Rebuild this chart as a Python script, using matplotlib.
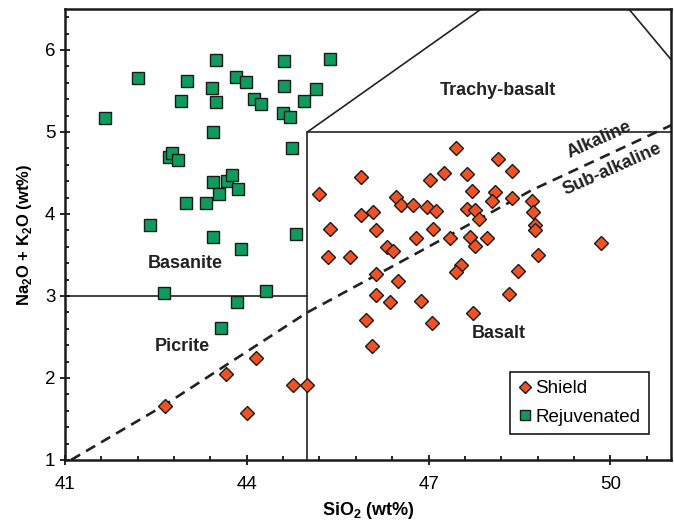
import matplotlib
matplotlib.use("Agg")
import matplotlib.pyplot as plt
import numpy as np

plt.rcParams["font.family"] = ["Liberation Sans", "DejaVu Sans"]
plt.rcParams["mathtext.fontset"] = "custom"
plt.rcParams["mathtext.rm"] = "Liberation Sans"
plt.rcParams["mathtext.bf"] = "Liberation Sans:bold"

# shield samples (SiO2, Na2O+K2O)
shield_sio2 = [42.65, 43.65, 44.16, 44.00, 44.76, 44.99,
               47.46, 45.89, 45.19, 47.03, 47.26, 47.63, 47.71,
               46.47, 46.55, 46.74, 46.97, 47.13, 47.63, 47.76, 47.84,
               45.88, 46.09, 45.38, 46.13, 47.07, 46.79, 47.35, 47.68, 47.77, 47.96,
               46.31, 46.41, 45.34, 45.70, 47.54,
               48.14, 48.38, 48.09, 48.04, 48.38, 48.70, 48.73, 48.75, 48.76,
               49.85, 48.81, 48.48,
               47.46, 46.14, 46.49, 46.13, 46.36, 46.87, 48.33, 45.96, 47.05, 47.73, 46.06]
shield_alk = [1.66, 2.05, 2.24, 1.57, 1.91, 1.91,
              4.80, 4.45, 4.24, 4.41, 4.50, 4.49, 4.28,
              4.21, 4.11, 4.11, 4.09, 4.04, 4.06, 4.05, 3.94,
              3.99, 4.02, 3.82, 3.80, 3.82, 3.71, 3.71, 3.72, 3.61, 3.71,
              3.60, 3.55, 3.48, 3.48, 3.38,
              4.67, 4.53, 4.27, 4.16, 4.19, 4.16, 4.02, 3.87, 3.81,
              3.65, 3.50, 3.31,
              3.29, 3.27, 3.18, 3.01, 2.93, 2.94, 3.02, 2.71, 2.67, 2.79, 2.39]

# rejuvenated samples
rejuv_sio2 = [41.66, 42.20, 43.01, 42.91, 43.49, 43.42, 43.49, 43.83, 43.98, 44.12,
              44.23, 44.61, 44.61, 44.59, 44.71, 44.94, 45.15, 45.37, 43.44, 44.74,
              42.71, 42.76, 42.86, 43.44, 43.67, 43.75, 43.54, 43.85, 42.99, 43.32,
              42.40, 43.44, 43.90, 44.82, 42.63, 44.31, 43.84, 43.57]
rejuv_alk = [5.17, 5.66, 5.62, 5.38, 5.88, 5.54, 5.36, 5.67, 5.61, 5.40,
             5.34, 5.87, 5.56, 5.23, 5.18, 5.38, 5.52, 5.89, 5.00, 4.80,
             4.70, 4.74, 4.66, 4.39, 4.40, 4.48, 4.24, 4.30, 4.13, 4.13,
             3.86, 3.72, 3.57, 3.76, 3.04, 3.06, 2.93, 2.61]

# TAS field boundaries
picrite_x, picrite_y = [41, 45], [3, 3]
basalt_x, basalt_y = [45, 45, 52], [1, 5, 5]
trachy_left_x, trachy_left_y = [45, 49.4], [5, 7.3]
trachy_right_x, trachy_right_y = [52, 49.4], [5, 7.3]

# alkaline / sub-alkaline divide
alk_x = [41.1, 42.6, 45.0, 46.8, 48.7, 51.2]
alk_y = [1.0, 1.65, 2.8, 3.52, 4.29, 5.15]

x_major = [41, 44, 47, 50]
y_major = [1, 2, 3, 4, 5, 6]

fig = plt.figure(figsize=(6.74, 5.23), dpi=100)
ax = fig.add_axes([0.0964, 0.1205, 0.8991, 0.8623])

line_kw = dict(color="#222222", lw=1.2, zorder=1)
ax.plot(picrite_x, picrite_y, **line_kw)
ax.plot(basalt_x, basalt_y, **line_kw)
ax.plot(trachy_left_x, trachy_left_y, **line_kw)
ax.plot(trachy_right_x, trachy_right_y, **line_kw)
ax.plot(alk_x, alk_y, color="#222222", lw=1.9, dashes=(4, 2.6), zorder=1)

ax.plot(shield_sio2, shield_alk, ls="none", marker="D", ms=7.2,
        mfc="#f05223", mec="#1a1a1a", mew=1.0, label="Shield", zorder=3)
ax.plot(rejuv_sio2, rejuv_alk, ls="none", marker="s", ms=8.6,
        mfc="#0d9c5c", mec="#1a1a1a", mew=1.0, label="Rejuvenated", zorder=3)

lab_kw = dict(fontsize=13, fontweight="bold", color="#222222", ha="center", va="center")
ax.text(48.14, 5.51, "Trachy-basalt", **lab_kw)
ax.text(42.98, 3.40, "Basanite", **lab_kw)
ax.text(42.93, 2.38, "Picrite", **lab_kw)
ax.text(48.15, 2.54, "Basalt", **lab_kw)
ax.text(49.82, 4.90, "Alkaline", rotation=24, **lab_kw)
ax.text(50.03, 4.55, "Sub-alkaline", rotation=24, **lab_kw)

ax.set_xlim(41, 51)
ax.set_ylim(1, 6.5)
ax.set_xticks(x_major)
ax.set_xticks(np.arange(41, 51.01, 0.6), minor=True)
ax.set_yticks(y_major)
ax.set_yticks(np.arange(1, 6.51, 0.2), minor=True)
ax.tick_params(which="major", direction="inout", length=7, width=1.2, labelsize=13.5)
ax.tick_params(which="minor", direction="in", length=3, width=1.2)
ax.tick_params(axis="x", which="major", pad=8)
for s in ax.spines.values():
    s.set_linewidth(1.8)
    s.set_color("#1a1a1a")

ax.set_xlabel("SiO$_\\mathbf{2}$ (wt%)", fontsize=13, fontweight="bold", labelpad=5)
ax.set_ylabel("Na$_\\mathbf{2}$O + K$_\\mathbf{2}$O (wt%)", fontsize=12, fontweight="bold", labelpad=8)

leg = ax.legend(loc="lower right", bbox_to_anchor=(0.9637, 0.0576), borderaxespad=0,
                fontsize=13.5, fancybox=False, edgecolor="#1a1a1a", framealpha=1,
                handlelength=0.7, handletextpad=0.2, borderpad=0.45, labelspacing=0.6,
                markerscale=0.85)
leg.get_frame().set_linewidth(1.2)

fig.savefig("out.png", dpi=100)
